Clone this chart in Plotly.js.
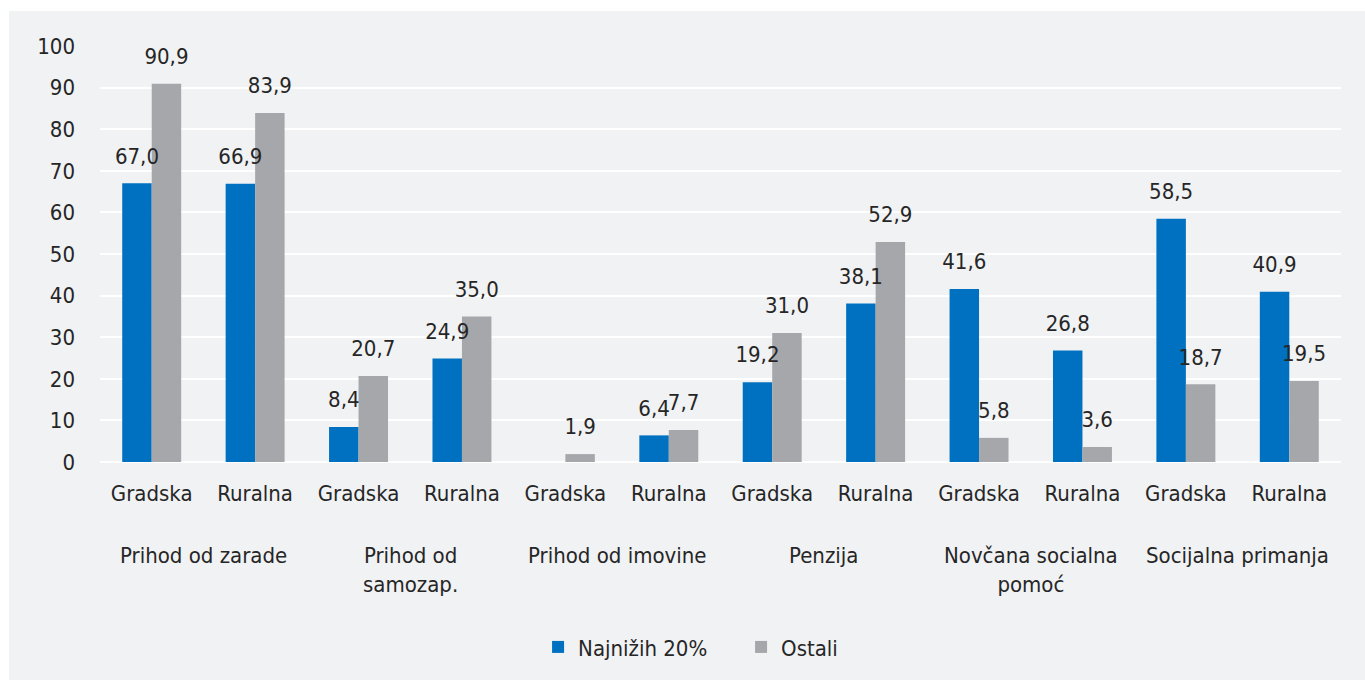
<!DOCTYPE html>
<html>
<head>
<meta charset="utf-8">
<script src="https://cdn.plot.ly/plotly-3.0.1.min.js"></script>
<style>
  html, body { margin: 0; padding: 0; background: #ffffff; }
  #chart { position: absolute; left: 9px; top: 11px; width: 1356px; height: 669px; }
</style>
</head>
<body>
<div id="chart"></div>
<script>
const groups = ['Prihod od zarade', 'Prihod od<br>samozap.', 'Prihod od imovine', 'Penzija', 'Novčana socialna<br>pomoć', 'Socijalna primanja'];
const areas = ['Gradska', 'Ruralna'];
const lowest20 = [67.0, 66.9, 8.4, 24.9, null, 6.4, 19.2, 38.1, 41.6, 26.8, 58.5, 40.9];
const others = [90.9, 83.9, 20.7, 35.0, 1.9, 7.7, 31.0, 52.9, 5.8, 3.6, 18.7, 19.5];

const fontFam = '"Liberation Sans Narrow", "DejaVu Sans Condensed", "Roboto", sans-serif';
const txtColor = '#262626';
const fs = 22;

// one slot per group/area pair
const xs = [];
const tickText = [];
groups.forEach((g, gi) => {
    areas.forEach((a, ai) => {
        xs.push(gi * areas.length + ai);
        tickText.push(a);
    });
});

const fmt = v => (v === null ? '' : v.toFixed(1).replace('.', ','));

const bars = [
    {name: 'Najnižih 20%', y: lowest20, color: '#0070c0'},
    {name: 'Ostali', y: others, color: '#a6a7ab'}
];

// visible bars, no text
const plot_data = bars.map(b => ({
    x: xs,
    y: b.y,
    type: 'bar',
    name: b.name,
    marker: {color: b.color},
    hoverinfo: 'skip'
}));

// invisible copies on an overlaid axis pair carry the value labels,
// so labels sit above every bar and a little higher up
bars.forEach(b => {
    plot_data.push({
        x: xs,
        y: b.y,
        xaxis: 'x2',
        yaxis: 'y2',
        type: 'bar',
        name: b.name,
        showlegend: false,
        marker: {color: 'rgba(0,0,0,0)'},
        text: b.y.map(fmt),
        textposition: 'outside',
        constraintext: 'none',
        cliponaxis: false,
        textfont: {family: fontFam, size: fs, color: txtColor},
        hoverinfo: 'skip'
    });
});

// group names under the area labels
const groupNotes = groups.map((g, gi) => ({
    x: gi * areas.length + (areas.length - 1) / 2,
    xref: 'x',
    y: -0.19,
    yref: 'paper',
    yanchor: 'top',
    text: g,
    showarrow: false,
    align: 'center',
    font: {family: fontFam, size: fs, color: txtColor}
}));

const xRange = [-0.5, xs.length - 0.5];

const layout = {
    width: 1356,
    height: 669,
    margin: {l: 91, r: 24, t: 35, b: 205},
    paper_bgcolor: '#f1f2f4',
    plot_bgcolor: '#f1f2f4',
    barmode: 'group',
    bargap: 0.43,
    bargroupgap: 0,
    font: {family: fontFam, size: fs, color: txtColor},
    xaxis: {
        tickmode: 'array',
        tickvals: xs,
        ticktext: tickText,
        range: xRange,
        showgrid: false,
        zeroline: false,
        ticks: '',
        ticklabelstandoff: 16,
        tickfont: {family: fontFam, size: fs, color: txtColor}
    },
    yaxis: {
        range: [0, 100],
        dtick: 10,
        showgrid: true,
        gridcolor: '#ffffff',
        gridwidth: 2,
        zeroline: true,
        zerolinecolor: '#ffffff',
        zerolinewidth: 2,
        ticks: '',
        ticklabelstandoff: 24,
        tickfont: {family: fontFam, size: fs, color: txtColor}
    },
    xaxis2: {
        overlaying: 'x',
        range: xRange,
        visible: false
    },
    yaxis2: {
        overlaying: 'y',
        range: [-2.8, 97.2],
        visible: false
    },
    legend: {
        orientation: 'h',
        x: 0.353,
        xanchor: 'left',
        y: -0.445,
        yanchor: 'middle',
        font: {family: fontFam, size: fs, color: txtColor},
        entrywidth: 158,
        entrywidthmode: 'pixels',
        traceorder: 'normal'
    },
    annotations: groupNotes,
    showlegend: true
};

Plotly.newPlot('chart', plot_data, layout, {displayModeBar: false, staticPlot: true});
</script>
</body>
</html>
